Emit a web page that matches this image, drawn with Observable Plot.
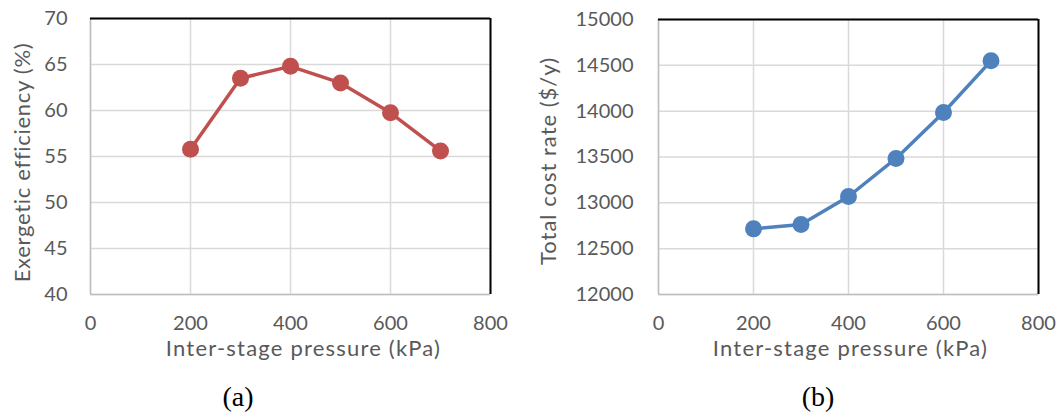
<!DOCTYPE html>
<html>
<head>
<meta charset="utf-8">
<script src="https://cdn.jsdelivr.net/npm/d3@7"></script>
<script src="https://cdn.jsdelivr.net/npm/@observablehq/plot@0.6"></script>
<style>
  body { margin: 0; background: #fff; }
  #wrap { position: relative; width: 1062px; height: 418px; overflow: hidden; }
  .panel { position: absolute; top: 0; overflow: visible; }
  .cap { position: absolute; font-family: "Liberation Serif", "DejaVu Serif", serif; font-size: 28px; color: #000; transform: translate(-50%, -50%); line-height: 1; }
</style>
</head>
<body>
<div id="wrap"></div>
<script>
const pressure = [200, 300, 400, 500, 600, 700];
const efficiency = [55.8, 63.5, 64.8, 63.0, 59.75, 55.6];
const costRate = [12716, 12764, 13069, 13484, 13985, 14549];
const xTicks = [0, 200, 400, 600, 800];
const xDomain = [0, 800];
const effTicks = [40, 45, 50, 55, 60, 65, 70];
const effDomain = [40, 70];
const costTicks = [12000, 12500, 13000, 13500, 14000, 14500, 15000];
const costDomain = [12000, 15000];
const xLabel = "Inter-stage pressure (kPa)";
const effLabel = "Exergetic efficiency (%)";
const costLabel = "Total cost rate ($/y)";
const captions = ["(a)", "(b)"];

const effData = pressure.map((p, i) => ({p, v: efficiency[i]}));
const costData = pressure.map((p, i) => ({p, v: costRate[i]}));

function panel({data, yDomain, yTicks, yLabel, color, marginLeft, marginRight, marginTop, tickPad, ylDx, ylDy, xlDx, ylSpacing}) {
  const svg = Plot.plot({
    width: 531,
    height: 370,
    marginLeft, marginRight, marginTop, marginBottom: 76,
    style: {fontFamily: "Lato, 'Open Sans', sans-serif", fontSize: "20px", color: "#595959", background: "transparent", overflow: "visible"},
    x: {domain: xDomain},
    y: {domain: yDomain},
    marks: [
      Plot.gridX(xTicks, {stroke: "#d9d9d9", strokeOpacity: 1, strokeWidth: 1.5}),
      Plot.gridY(yTicks, {stroke: "#d9d9d9", strokeOpacity: 1, strokeWidth: 1.5}),
      Plot.ruleX([xDomain[0]], {stroke: "#bfbfbf", strokeWidth: 1.5}),
      Plot.ruleY([yDomain[0]], {stroke: "#bfbfbf", strokeWidth: 1.5}),
      Plot.ruleX([xDomain[1]], {stroke: "#000", strokeWidth: 2}),
      Plot.ruleY([yDomain[1]], {stroke: "#000", strokeWidth: 2}),
      Plot.axisX({ticks: xTicks, tickSize: 0, tickPadding: 21, label: null, fill: "#595959", tickFormat: d3.format("d")}),
      Plot.axisY({ticks: yTicks, tickSize: 0, tickPadding: tickPad, label: null, fill: "#595959", tickFormat: d3.format("d")}),
      Plot.text([xLabel], {frameAnchor: "bottom", dx: xlDx, dy: 61, fill: "#595959", fontSize: 22, textAnchor: "middle"}),
      Plot.text([yLabel], {frameAnchor: "left", dx: ylDx, dy: ylDy, rotate: -90, fill: "#595959", fontSize: 22, textAnchor: "middle"}),
      Plot.line(data, {x: "p", y: "v", stroke: color, strokeWidth: 3.5}),
      Plot.dot(data, {x: "p", y: "v", r: 8.5, fill: color, stroke: "none"})
    ]
  });
  svg.querySelectorAll("text").forEach(t => {
    if (t.textContent === xLabel) t.style.letterSpacing = "1.2px";
    if (t.textContent === yLabel) t.style.letterSpacing = ylSpacing + "px";
  });
  return svg;
}

const wrap = document.getElementById("wrap");
const a = panel({data: effData, yDomain: effDomain, yTicks: effTicks, yLabel: effLabel, color: "#c0504d",
  marginLeft: 90, marginRight: 41, marginTop: 18, tickPad: 23, ylDx: -68, ylDy: 6, xlDx: 13, ylSpacing: 0.7});
const b = panel({data: costData, yDomain: costDomain, yTicks: costTicks, yLabel: costLabel, color: "#4f81bd",
  marginLeft: 127, marginRight: 24, marginTop: 19, tickPad: 25, ylDx: -110, ylDy: 4, xlDx: 2, ylSpacing: 1.0});
a.classList.add("panel"); a.style.left = "0px";
b.classList.add("panel"); b.style.left = "531px";
wrap.appendChild(a); wrap.appendChild(b);

[[captions[0], 238], [captions[1], 818]].forEach(([t, x]) => {
  const d = document.createElement("div");
  d.className = "cap";
  d.textContent = t;
  d.style.left = x + "px";
  d.style.top = "397px";
  wrap.appendChild(d);
});
</script>
</body>
</html>
